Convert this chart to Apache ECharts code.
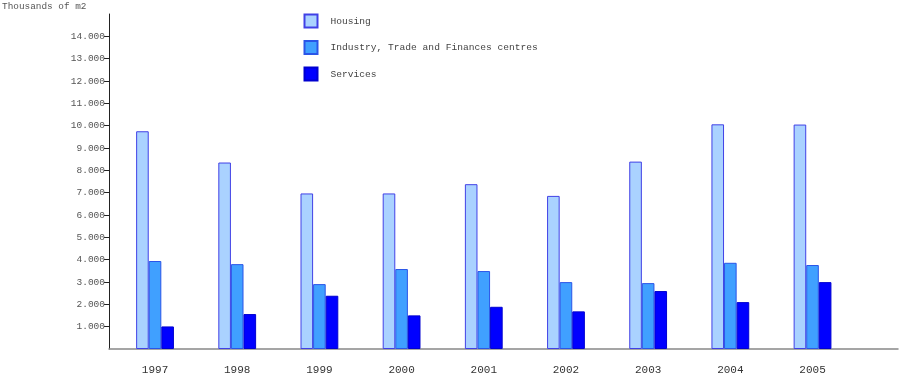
<!DOCTYPE html>
<html>
<head>
<meta charset="utf-8">
<script src="https://cdn.jsdelivr.net/npm/echarts@6/dist/echarts.min.js"></script>
<style>html,body{margin:0;padding:0;background:#fff}#c{width:900px;height:380px}</style>
</head>
<body>
<div id="c"></div>
<script>
const years = ['1997','1998','1999','2000','2001','2002','2003','2004','2005'];
const housing = [9750, 8350, 6965, 6965, 7380, 6855, 8390, 10060, 10050];
const industry = [3940, 3800, 2905, 3580, 3490, 2995, 2950, 3860, 3760];
const services = [1010, 1565, 2385, 1505, 1890, 1685, 2595, 2100, 2995];
const yTicks = [1000,2000,3000,4000,5000,6000,7000,8000,9000,10000,11000,12000,13000,14000];
const seriesNames = ['Housing', 'Industry, Trade and Finances centres', 'Services'];

const FONT = 'Liberation Mono';
function pairs(arr){ return arr.map((v,i)=>[i,v]); }
function fmtThousands(v){ return String(v).replace(/\B(?=(\d{3})+(?!\d))/g, '.'); }

const chart = echarts.init(document.getElementById('c'), null, {renderer:'canvas'});
chart.setOption({
  animation:false,
  backgroundColor:'#ffffff',
  title:{ text:'Thousands of m2', left:2, top:2.5, padding:0,
    textStyle:{ fontFamily:FONT, fontSize:9.4, fontWeight:'normal', color:'#555' } },
  legend:{
    orient:'vertical', left:303.5, top:13.5, padding:0, itemWidth:13, itemHeight:13, itemGap:11.5, icon:'rect',
    textStyle:{ fontFamily:FONT, fontSize:9.6, color:'#444', padding:[0,0,0,8] },
    data: seriesNames
  },
  grid:{ left:109, right:2, top:14, bottom:31, containLabel:false },
  xAxis:{
    type:'value', min:-0.56, max:9.04,
    axisLine:{ show:true, onZero:false, lineStyle:{ color:'#888', width:1.5 } },
    axisTick:{ show:false },
    splitLine:{ show:false },
    axisLabel:{ customValues:[0,1,2,3,4,5,6,7,8], formatter: v => years[Math.round(v)] || '',
      fontFamily:FONT, fontSize:11, color:'#333', margin:16 }
  },
  yAxis:{
    type:'value', min:0, max:15000, interval:1000,
    axisLine:{ show:true, onZero:false, lineStyle:{ color:'#222', width:1 } },
    axisTick:{ show:true, length:5, customValues:yTicks, lineStyle:{ color:'#222' } },
    splitLine:{ show:false },
    axisLabel:{ customValues:yTicks, formatter: v => fmtThousands(v),
      fontFamily:FONT, fontSize:9.5, color:'#555', margin:4 }
  },
  series:[
    { name:seriesNames[0], type:'bar', data:pairs(housing), barWidth:12.6, barGap:'0%',
      itemStyle:{ color:'#aad2ff', borderColor:'#4040e6', borderWidth:1 } },
    { name:seriesNames[1], type:'bar', data:pairs(industry), barWidth:12.6, barGap:'0%',
      itemStyle:{ color:'#40a0ff', borderColor:'#2a55e8', borderWidth:1 } },
    { name:seriesNames[2], type:'bar', data:pairs(services), barWidth:12.6, barGap:'0%',
      itemStyle:{ color:'#0000ff', borderColor:'#0000d0', borderWidth:1 } }
  ]
});
</script>
</body>
</html>
